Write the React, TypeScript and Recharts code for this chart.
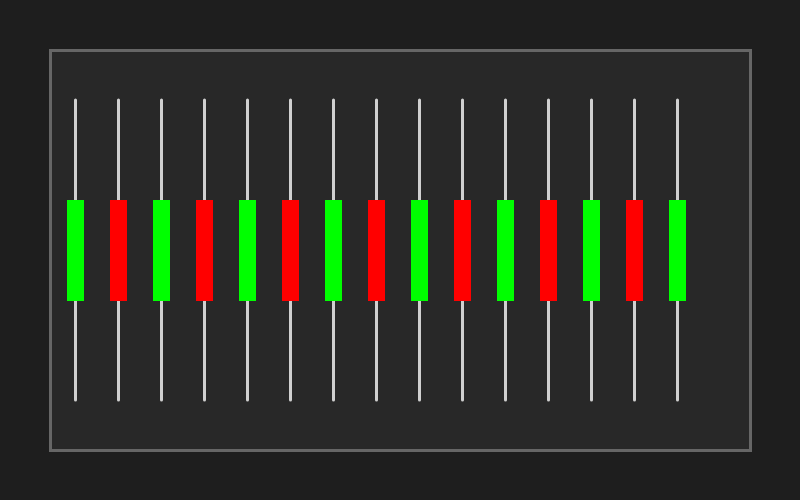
import { ComposedChart, Bar, XAxis, YAxis } from "recharts";

const labels = ["1", "2", "3", "4", "5", "6", "7", "8", "9", "10", "11", "12", "13", "14", "15"];
const opens = [105, 115, 105, 115, 105, 115, 105, 115, 105, 115, 105, 115, 105, 115, 105];
const closes = [115, 105, 115, 105, 115, 105, 115, 105, 115, 105, 115, 105, 115, 105, 115];
const highs = [125, 125, 125, 125, 125, 125, 125, 125, 125, 125, 125, 125, 125, 125, 125];
const lows = [95, 95, 95, 95, 95, 95, 95, 95, 95, 95, 95, 95, 95, 95, 95];

const data = labels.map((name, i) => ({
  name,
  open: opens[i],
  close: closes[i],
  high: highs[i],
  low: lows[i],
  range: [lows[i], highs[i]],
}));

// draws wick + body inside the high/low bar the library laid out
const Candle = (props: any) => {
  const { x, y, width, height, payload } = props;
  const { open, close, high, low } = payload;
  const ppu = height / (high - low);
  const cx = x + width / 2;
  const top = y + (high - Math.max(open, close)) * ppu;
  const bottom = y + (high - Math.min(open, close)) * ppu;
  const up = close >= open;
  return (
    <g>
      <line
        x1={cx}
        x2={cx}
        y1={y}
        y2={y + height}
        stroke="#d0d0d0"
        strokeWidth={3}
        strokeLinecap="round"
      />
      <rect
        x={x}
        y={top}
        width={width}
        height={bottom - top + 1}
        fill={up ? "#00ff00" : "#ff0000"}
      />
    </g>
  );
};

export default function App() {
  return (
    <div
      style={{
        position: "absolute",
        left: 0,
        top: 0,
        width: 800,
        height: 500,
        background: "#1e1e1e",
      }}
    >
      <div
        style={{
          position: "absolute",
          left: 49,
          top: 49,
          width: 703,
          height: 403,
          boxSizing: "border-box",
          border: "3px solid #666666",
          background: "#282828",
        }}
      />
      <div style={{ position: "absolute", left: 0, top: 0 }}>
        <ComposedChart
          width={800}
          height={500}
          data={data}
          margin={{ top: 50, right: 50, bottom: 50, left: 50 }}
        >
          <XAxis dataKey="name" hide padding={{ left: 4, right: 51 }} />
          <YAxis hide domain={[90, 130]} />
          <Bar
            dataKey="range"
            barSize={17}
            shape={Candle}
            isAnimationActive={false}
          />
        </ComposedChart>
      </div>
    </div>
  );
}
